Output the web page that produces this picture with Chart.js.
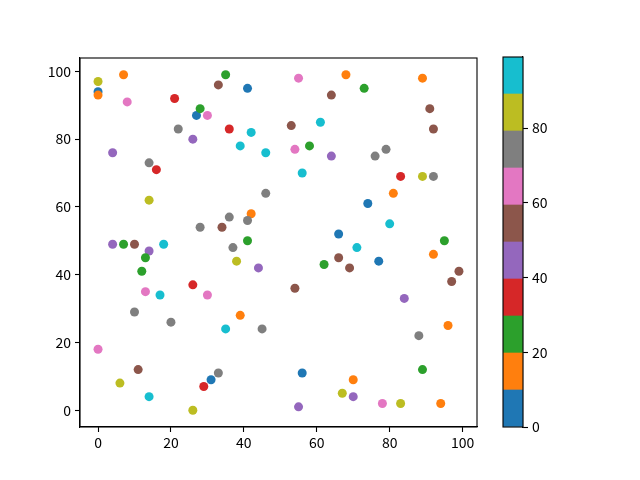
<!DOCTYPE html>
<html><head><meta charset="utf-8">
<script src="https://cdn.jsdelivr.net/npm/chart.js@4/dist/chart.umd.min.js"></script>
<style>
html,body{margin:0;padding:0;background:#fff;}
#wrap{position:relative;width:640px;height:480px;}
canvas{position:absolute;left:0;top:0;}
</style></head><body>
<div id="wrap"><canvas id="main" width="640" height="480"></canvas><canvas id="cbar" width="640" height="480"></canvas></div>
<script>
const xs = [0,0,0,7,8,21,27,28,30,33,35,41,22,26,36,39,42,46,4,14,16,14,46,42,41,36,34,28,41,4,7,10,18,14,13,12,37,38,44,13,17,26,30,10,20,39,35,45,0,11,6,14,33,31,29,26,
            55,68,73,64,89,91,92,53,61,54,58,64,76,79,56,83,89,92,81,74,80,66,71,95,92,62,66,69,77,99,97,54,84,96,88,89,56,70,67,70,55,78,83,94];
const ys = [94,97,93,99,91,92,87,89,87,96,99,95,83,80,83,78,82,76,76,73,71,62,64,58,56,57,54,54,50,49,49,49,49,47,45,41,48,44,42,35,34,37,34,29,26,28,24,24,18,12,8,4,11,9,7,0,
            98,99,95,93,98,89,83,84,85,77,78,75,75,77,70,69,69,69,64,61,55,52,48,50,46,43,45,42,44,41,38,36,33,25,22,12,11,9,5,4,1,2,2,2];
const cs = [5,85,15,15,65,35,5,25,65,55,25,5,75,45,35,95,95,95,45,75,35,85,75,15,75,75,55,75,25,45,25,55,95,45,25,25,75,85,45,65,95,35,65,75,75,15,95,75,65,55,85,95,75,5,35,85,
            65,15,25,55,15,55,55,55,95,65,25,45,75,75,95,35,85,75,15,5,95,5,95,25,15,25,55,55,5,55,55,55,45,15,75,25,5,15,85,45,45,65,85,15];
const xTicks = [0,20,40,60,80,100];
const yTicks = [0,20,40,60,80,100];
const cbarTicks = [0,20,40,60,80];
const cMin = 0, cMax = 99;
const tab10 = ['#1f77b4','#ff7f0e','#2ca02c','#d62728','#9467bd','#8c564b','#e377c2','#7f7f7f','#bcbd22','#17becf'];

function colorOf(c){
  let i = Math.floor((c - cMin) / (cMax - cMin) * tab10.length);
  return tab10[Math.max(0, Math.min(tab10.length - 1, i))];
}

const font = {family:'"Noto Sans CJK SC", "Noto Sans", sans-serif', size:14};
const frame = {
  id:'frame',
  afterDraw(chart){
    const a = chart.chartArea, ctx = chart.ctx;
    ctx.save(); ctx.strokeStyle = '#000'; ctx.lineWidth = 1.1;
    ctx.strokeRect(a.left, a.top, a.right - a.left, a.bottom - a.top);
    ctx.restore();
  }
};

const dataMin = Math.min(...xs), dataMax = Math.max(...xs);
const mx = (dataMax - dataMin) * 0.05;
const yMinD = Math.min(...ys), yMaxD = Math.max(...ys);
const my = (yMaxD - yMinD) * 0.05;

new Chart(document.getElementById('main'), {
  type:'scatter',
  data:{datasets:[{
    data: xs.map((x,i)=>({x:x, y:ys[i]})),
    pointBackgroundColor: cs.map(colorOf),
    pointBorderWidth: 0,
    pointRadius: 4.5,
    pointHoverRadius: 4.5
  }]},
  options:{
    responsive:false, animation:false, devicePixelRatio:1,
    layout:{padding:{left:0, right:163, top:58, bottom:0}},
    plugins:{legend:{display:false}, tooltip:{enabled:false}},
    scales:{
      x:{type:'linear', min:dataMin - mx, max:dataMax + mx,
        afterBuildTicks: s => { s.ticks = xTicks.map(v=>({value:v})); },
        afterFit: s => { s.height = 53; },
        grid:{drawOnChartArea:false, tickLength:5, tickColor:'#000', tickWidth:1.1},
        border:{display:true, color:'#000', width:1.1},
        ticks:{color:'#000', font:font, padding:2, maxRotation:0}
      },
      y:{type:'linear', min:yMinD - my, max:yMaxD + my,
        afterBuildTicks: s => { s.ticks = yTicks.map(v=>({value:v})); },
        afterFit: s => { s.width = 80; },
        grid:{drawOnChartArea:false, tickLength:5, tickColor:'#000', tickWidth:1.1},
        border:{display:true, color:'#000', width:1.1},
        ticks:{color:'#000', font:font, padding:4}
      }
    }
  },
  plugins:[frame]
});

const step = (cMax - cMin) / tab10.length;
new Chart(document.getElementById('cbar'), {
  type:'bar',
  data:{labels:['c'], datasets: tab10.map((col,i)=>({
    data:[step], backgroundColor:col, borderWidth:0, barPercentage:1, categoryPercentage:1
  }))},
  options:{
    responsive:false, animation:false, devicePixelRatio:1,
    layout:{padding:{left:503, right:80, top:57, bottom:53}},
    plugins:{legend:{display:false}, tooltip:{enabled:false}},
    scales:{
      x:{display:false, stacked:true},
      y:{stacked:true, position:'right', min:cMin, max:cMax,
        afterBuildTicks: s => { s.ticks = cbarTicks.map(v=>({value:v})); },
        afterFit: s => { s.width = 37; },
        grid:{drawOnChartArea:false, tickLength:5, tickColor:'#000', tickWidth:1.1},
        border:{display:true, color:'#000', width:1.1},
        ticks:{color:'#000', font:font, padding:4}
      }
    }
  },
  plugins:[frame]
});
</script>
</body></html>
